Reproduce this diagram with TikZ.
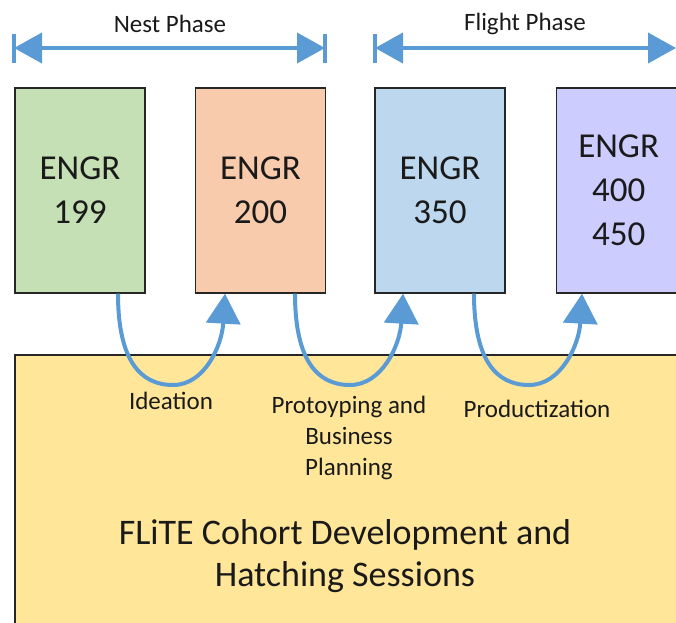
\documentclass[tikz,border=0pt]{standalone}
\usepackage{fontspec}
\setmainfont{Carlito}
\usetikzlibrary{arrows.meta}
\definecolor{ablue}{HTML}{5B9BD5}
\definecolor{cgreen}{HTML}{C5E0B4}
\definecolor{corange}{HTML}{F8CBAD}
\definecolor{cblue}{HTML}{BDD7EE}
\definecolor{cpurple}{HTML}{CCCCFF}
\definecolor{cyellow}{HTML}{FFE699}
\definecolor{txt}{HTML}{1A1A1A}
\tikzset{
  course/.style={draw=black!85, line width=1.3pt, minimum width=130pt, minimum height=205pt,
    inner sep=0pt, align=center, text=txt, font=\fontsize{35}{44}\selectfont},
  flow/.style={draw=ablue, line width=4pt, -{Triangle[length=30pt,width=34pt]}},
  phase/.style={draw=ablue, line width=4pt, {Triangle[length=28pt,width=30pt]}-{Triangle[length=28pt,width=30pt]}},
  barline/.style={draw=ablue, line width=4pt},
  lbl/.style={text=txt, align=center, font=\fontsize{25}{31}\selectfont, inner sep=0pt},
}
\begin{document}
\begin{tikzpicture}[x=1pt,y=-1pt]
\useasboundingbox (0,0) rectangle (676,622);
\begin{scope}
\clip (0,0) rectangle (676,622);
% yellow base
\fill[cyellow] (15,355) rectangle (720,660);
\draw[black!85, line width=1.3pt] (15,660) -- (15,355) -- (720,355);
\node[text=txt, align=center, font=\fontsize{36}{42}\selectfont] (base) at (345,556) {FLiTE Cohort Development and\\Hatching Sessions};
% course boxes
\node[course, fill=cgreen]  (c199) at (80,190.5)  {ENGR\\199};
\node[course, fill=corange] (c200) at (260.5,190.5) {ENGR\\200};
\node[course, fill=cblue]   (c350) at (440,190.5) {ENGR\\350};
\node[course, fill=cpurple, minimum width=124pt, anchor=west] (c400) at (556,190.5) {ENGR\\400\\450};
% phase arrows
\coordinate (n1) at (14,48); \coordinate (n2) at (325,48);
\coordinate (f1) at (375,48); \coordinate (f2) at (676,48);
\draw[barline] (14,34) -- (14,63);
\draw[barline] (325,34) -- (325,63);
\draw[barline] (375,34) -- (375,63);
\draw[phase] (n1) -- (n2);
\draw[phase] (f1) -- (f2);
\node[lbl] (nest) at (170,24) {Nest Phase};
\node[lbl] (flight) at (525,24) {Flight Phase};
% curved flow arrows
\coordinate (a1) at (c199.south -| 118,0);
\coordinate (b1) at (c200.south -| 225,0);
\coordinate (a2) at (c200.south -| 295,0);
\coordinate (b2) at (c350.south -| 403,0);
\coordinate (a3) at (c350.south -| 474,0);
\coordinate (b3) at (c400.south -| 582,0);
\draw[flow] (a1) .. controls (118,360) and (140,385) .. (173,385) .. controls (205,385) and (222,345) .. (b1);
\draw[flow] (a2) .. controls (295,360) and (317,385) .. (350,385) .. controls (382,385) and (400,345) .. (b2);
\draw[flow] (a3) .. controls (474,360) and (496,385) .. (529,385) .. controls (561,385) and (579,345) .. (b3);
% labels
\node[lbl] (l1) at (171,401) {Ideation};
\node[lbl, anchor=north] (l2) at (349,396) {Protoyping and\\Business\\Planning};
\node[lbl] (l3) at (537,409) {Productization};
\end{scope}
\end{tikzpicture}
\end{document}
